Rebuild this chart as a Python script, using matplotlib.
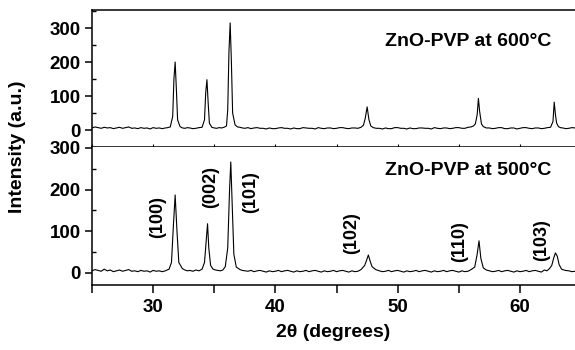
import numpy as np
import matplotlib
matplotlib.use("Agg")
import matplotlib.pyplot as plt
from matplotlib.ticker import MultipleLocator

plt.rcParams['font.family'] = ['Liberation Sans', 'DejaVu Sans']
plt.rcParams['font.weight'] = 'bold'

# ZnO-PVP calcined at 600 C (top panel)
two_theta_600 = [25.0, 25.25, 25.5, 25.75, 26.0, 26.25, 26.5, 26.75, 27.0, 27.25,
                 27.5, 27.75, 28.0, 28.25, 28.5, 28.75, 29.0, 29.25, 29.5, 29.75,
                 30.0, 30.25, 30.5, 30.75, 31.0, 31.2, 31.4, 31.6, 31.7, 31.8,
                 31.9, 32.0, 32.2, 32.4, 32.6, 32.8, 33.0, 33.25, 33.5, 33.75,
                 34.0, 34.2, 34.3, 34.4, 34.5, 34.6, 34.8, 35.0, 35.2, 35.4,
                 35.6, 35.8, 36.0, 36.1, 36.2, 36.3, 36.4, 36.5, 36.7, 36.9,
                 37.1, 37.3, 37.5, 37.75, 38.0, 38.25, 38.5, 38.75, 39.0, 39.25,
                 39.5, 39.75, 40.0, 40.25, 40.5, 40.75, 41.0, 41.25, 41.5, 41.75,
                 42.0, 42.25, 42.5, 42.75, 43.0, 43.25, 43.5, 43.75, 44.0, 44.25,
                 44.5, 44.75, 45.0, 45.25, 45.5, 45.75, 46.0, 46.25, 46.5, 46.75,
                 47.0, 47.2, 47.35, 47.5, 47.65, 47.8, 48.0, 48.25, 48.5, 48.75,
                 49.0, 49.25, 49.5, 49.75, 50.0, 50.25, 50.5, 50.75, 51.0, 51.25,
                 51.5, 51.75, 52.0, 52.25, 52.5, 52.75, 53.0, 53.25, 53.5, 53.75,
                 54.0, 54.25, 54.5, 54.75, 55.0, 55.25, 55.5, 55.75, 56.0, 56.2,
                 56.35, 56.5, 56.6, 56.7, 56.85, 57.0, 57.25, 57.5, 57.75, 58.0,
                 58.25, 58.5, 58.75, 59.0, 59.25, 59.5, 59.75, 60.0, 60.25, 60.5,
                 60.75, 61.0, 61.25, 61.5, 61.75, 62.0, 62.25, 62.5, 62.7, 62.8,
                 62.9, 63.0, 63.15, 63.3, 63.5, 63.75, 64.0, 64.25, 64.5]
intensity_600 = [6, 9, 7, 5, 8, 6, 7, 4, 6, 8,
                 5, 7, 9, 5, 6, 4, 7, 5, 6, 3,
                 7, 5, 6, 4, 6, 7, 9, 40, 150, 200,
                 120, 30, 10, 6, 5, 7, 6, 4, 5, 7,
                 8, 30, 110, 148, 80, 20, 8, 6, 5, 7,
                 6, 8, 12, 60, 230, 315, 200, 50, 15, 9,
                 8, 6, 5, 7, 4, 6, 7, 5, 5, 3,
                 6, 4, 4, 6, 7, 5, 5, 3, 6, 4,
                 4, 7, 6, 5, 5, 3, 7, 5, 4, 6,
                 6, 4, 5, 7, 7, 5, 4, 6, 6, 5,
                 8, 14, 35, 68, 30, 12, 7, 5, 5, 3,
                 6, 4, 4, 7, 7, 5, 5, 3, 6, 4,
                 4, 6, 6, 5, 5, 3, 7, 5, 4, 6,
                 6, 4, 5, 7, 7, 5, 5, 8, 9, 12,
                 18, 45, 93, 55, 18, 10, 6, 6, 4, 5,
                 7, 7, 4, 4, 6, 6, 3, 5, 7, 7,
                 5, 4, 6, 6, 4, 5, 7, 8, 25, 82,
                 45, 20, 10, 7, 6, 4, 5, 7, 6]

# ZnO-PVP calcined at 500 C (bottom panel)
two_theta_500 = [25.0, 25.25, 25.5, 25.75, 26.0, 26.25, 26.5, 26.75, 27.0, 27.25,
                 27.5, 27.75, 28.0, 28.25, 28.5, 28.75, 29.0, 29.25, 29.5, 29.75,
                 30.0, 30.25, 30.5, 30.75, 31.0, 31.3, 31.5, 31.65, 31.8, 31.95,
                 32.1, 32.4, 32.6, 32.8, 33.0, 33.25, 33.5, 33.75, 34.0, 34.2,
                 34.35, 34.45, 34.55, 34.7, 34.9, 35.1, 35.3, 35.5, 35.7, 35.9,
                 36.1, 36.25, 36.35, 36.45, 36.6, 36.8, 37.1, 37.3, 37.5, 37.75,
                 38.0, 38.25, 38.5, 38.75, 39.0, 39.25, 39.5, 39.75, 40.0, 40.25,
                 40.5, 40.75, 41.0, 41.25, 41.5, 41.75, 42.0, 42.25, 42.5, 42.75,
                 43.0, 43.25, 43.5, 43.75, 44.0, 44.25, 44.5, 44.75, 45.0, 45.25,
                 45.5, 45.75, 46.0, 46.25, 46.5, 46.75, 47.0, 47.3, 47.45, 47.6,
                 47.75, 47.9, 48.2, 48.5, 48.75, 49.0, 49.25, 49.5, 49.75, 50.0,
                 50.25, 50.5, 50.75, 51.0, 51.25, 51.5, 51.75, 52.0, 52.25, 52.5,
                 52.75, 53.0, 53.25, 53.5, 53.75, 54.0, 54.25, 54.5, 54.75, 55.0,
                 55.25, 55.5, 55.75, 56.0, 56.3, 56.5, 56.65, 56.8, 57.0, 57.25,
                 57.5, 57.75, 58.0, 58.25, 58.5, 58.75, 59.0, 59.25, 59.5, 59.75,
                 60.0, 60.25, 60.5, 60.75, 61.0, 61.25, 61.5, 61.75, 62.0, 62.2,
                 62.4, 62.6, 62.75, 62.9, 63.05, 63.2, 63.4, 63.7, 64.0, 64.25,
                 64.5]
intensity_500 = [5, 8, 6, 4, 9, 5, 7, 3, 5, 7,
                 4, 6, 8, 4, 5, 3, 6, 4, 5, 2,
                 6, 4, 5, 3, 5, 9, 25, 110, 187, 100,
                 25, 10, 7, 5, 6, 4, 7, 5, 9, 25,
                 80, 118, 60, 18, 9, 7, 6, 5, 7, 15,
                 60, 200, 266, 180, 45, 14, 8, 6, 5, 4,
                 6, 3, 5, 6, 4, 2, 5, 3, 4, 6,
                 3, 5, 6, 4, 2, 5, 3, 4, 6, 3,
                 5, 6, 4, 2, 5, 3, 4, 6, 3, 5,
                 6, 4, 2, 5, 3, 4, 8, 18, 30, 43,
                 28, 15, 8, 5, 3, 4, 6, 3, 5, 6,
                 4, 2, 5, 3, 4, 6, 3, 5, 6, 4,
                 2, 5, 3, 4, 6, 3, 5, 6, 4, 2,
                 5, 3, 4, 8, 14, 45, 77, 35, 12, 7,
                 5, 3, 4, 6, 3, 5, 6, 4, 2, 5,
                 3, 4, 6, 3, 5, 6, 4, 2, 7, 5,
                 10, 18, 35, 48, 40, 20, 9, 6, 5, 3,
                 4]

planes = ["(100)", "(002)", "(101)", "(102)", "(110)", "(103)"]
plane_x = [30.4, 34.7, 38.0, 46.2, 55.1, 61.8]
plane_y = [135, 205, 193, 95, 74, 79]

fig = plt.figure(figsize=(5.75, 3.5), dpi=100)
ax_top = fig.add_axes([0.16, 0.58, 0.84, 0.3914])
ax_bot = fig.add_axes([0.16, 0.1857, 0.84, 0.3943], sharex=ax_top)

ax_top.plot(two_theta_600, intensity_600, color='black', lw=0.8)
ax_bot.plot(two_theta_500, intensity_500, color='black', lw=0.8)

ax_top.set_xlim(25, 64.5)
ax_top.set_ylim(-50, 353)
ax_bot.set_ylim(-29, 302)

for ax in (ax_top, ax_bot):
    ax.spines['right'].set_visible(False)
    for s in ('left', 'top', 'bottom'):
        ax.spines[s].set_linewidth(1.1)
    ax.yaxis.set_major_locator(MultipleLocator(100))
    ax.yaxis.set_minor_locator(MultipleLocator(50))
    ax.tick_params(axis='y', which='major', direction='out', length=5,
                   width=1.1, labelsize=13.5, pad=3)
    ax.tick_params(axis='y', which='minor', direction='in', length=3, width=1)
    ax.tick_params(axis='y', right=False)

ax_bot.spines['top'].set_visible(False)
ax_bot.xaxis.set_major_locator(MultipleLocator(10))
ax_bot.xaxis.set_minor_locator(MultipleLocator(5))
ax_bot.tick_params(axis='x', which='both', direction='out', length=6,
                   width=1.1, labelsize=13.5, pad=4)
ax_top.tick_params(axis='x', which='both', direction='in', length=2,
                   width=0.8, labelbottom=False, top=False)

ax_bot.set_xlabel("2θ (degrees)", fontsize=14, fontweight='bold', labelpad=6)
fig.text(0.03, 0.58, "Intensity (a.u.)", rotation=90, fontsize=14,
         fontweight='bold', ha='center', va='center')

ax_top.text(62.6, 259, "ZnO-PVP at 600°C", fontsize=14,
            fontweight='bold', ha='right', va='center')
ax_bot.text(62.6, 245, "ZnO-PVP at 500°C", fontsize=14,
            fontweight='bold', ha='right', va='center')

for name, px, py in zip(planes, plane_x, plane_y):
    ax_bot.text(px, py, name, rotation=90, fontsize=13, fontweight='bold',
                ha='center', va='center')

fig.savefig("out.png", dpi=100)
